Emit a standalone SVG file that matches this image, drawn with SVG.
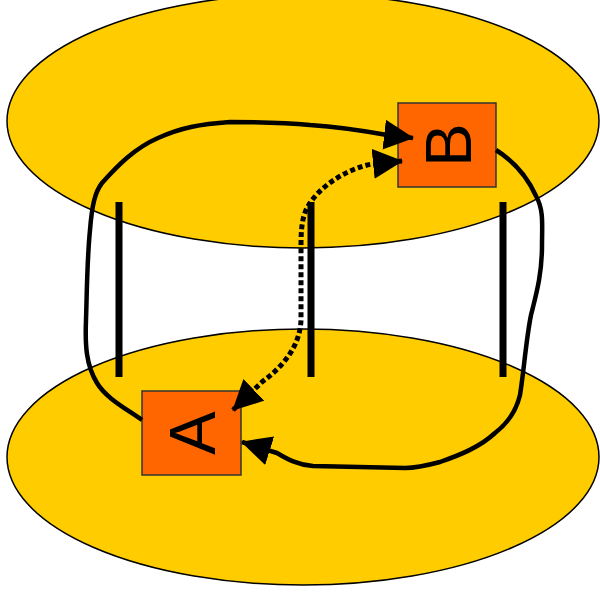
<svg xmlns="http://www.w3.org/2000/svg" width="600" height="598" viewBox="0 0 600 598">
<style>
.plane{fill:#FFCC00;stroke:#000;stroke-width:1.5}
.box{fill:#FF6600;stroke:#333;stroke-width:1.5}
.lbl{font-family:"Liberation Sans",Arial,sans-serif;font-size:65px;fill:#000;text-anchor:middle}
.bar{stroke:#000;stroke-width:7;fill:none}
.conn{fill:none;stroke:#000;stroke-width:4.5;stroke-linejoin:round;stroke-linecap:butt}
.dot{stroke-width:5;stroke-dasharray:5 3}
</style>
<defs>
<marker id="ah" markerUnits="userSpaceOnUse" markerWidth="32" markerHeight="32" refX="29" refY="15" orient="auto-start-reverse" viewBox="0 0 32 32">
<path d="M0,0 L30,15 L0,30 z" fill="#000"/>
</marker>
</defs>
<g id="planes">
<ellipse id="top-plane" class="plane" cx="303" cy="121" rx="296" ry="127"/>
<ellipse id="bottom-plane" class="plane" cx="303" cy="457" rx="296" ry="128"/>
</g>
<g id="bars">
<line class="bar" x1="119" y1="202" x2="119" y2="377"/>
<line class="bar" x1="311" y1="202" x2="311" y2="377"/>
<line class="bar" x1="503" y1="202" x2="503" y2="377"/>
</g>
<g id="node-B">
<rect class="box" x="398" y="103" width="98" height="84"/>
<text class="lbl" transform="translate(448,145) rotate(-90)" x="0" y="23">B</text>
</g>
<g id="node-A">
<rect class="box" x="142" y="391" width="99" height="84"/>
<text class="lbl" transform="translate(191.5,433) rotate(-90)" x="0" y="23">A</text>
</g>
<g id="connectors">
<path class="conn" marker-end="url(#ah)" d="M142,420 C125,408 106,398 97,383 C86,365 85,345 86,320 C87,290 87,260 90,230 C92,205 95,192 102,183 C118,165 135,148 158,138 C180,128 200,124 230,122 C260,122 290,123 310,125 C340,127 365,131 387,135 L413,138"/>
<path class="conn" marker-end="url(#ah)" d="M496,150 C512,160 527,176 536,196 C544,210 542,225 542,245 C542,275 536,295 531,315 C526,340 524,370 520,395 C516,412 508,423 495,433 C480,447 460,455 440,462 C425,466 415,468 405,468 L313,466 C298,465 287,459 277,453 L242,442"/>
<path class="conn dot" marker-start="url(#ah)" marker-end="url(#ah)" d="M402,161 L372,164 C350,168 318,185 306,210 C301,222 301,235 301,250 L301,320 C300,345 285,365 262,382 L233,410"/>
</g>
</svg>
